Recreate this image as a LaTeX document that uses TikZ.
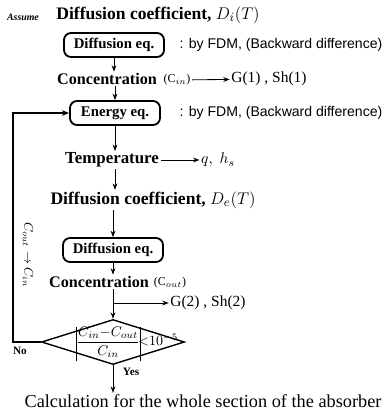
\documentclass[tikz,border=0pt]{standalone}
\usepackage{amsmath,amssymb}
\usepackage{fontspec}
\setmainfont{Liberation Serif}
\setsansfont{Liberation Sans}
\usepackage{tikz}
\usetikzlibrary{shapes.geometric, arrows.meta, positioning, calc}
\tikzstyle{eqbox} = [rectangle, draw, line width=1.3pt, rounded corners=5pt, minimum height=0.6cm, inner sep=2pt, font=\fontsize{10.5}{12}\selectfont\bfseries]
\tikzstyle{arrow} = [-{Stealth[length=1.6mm, width=1.2mm]}, line width=0.6pt]

\begin{document}
\begin{tikzpicture}[x=0.025cm, y=-0.025cm,
  lbl/.style={font=\fontsize{11.5}{13}\selectfont\bfseries, inner sep=1pt},
  title/.style={font=\fontsize{12.5}{14}\selectfont\bfseries, inner sep=1pt},
  note/.style={font=\sffamily\fontsize{10}{12}\selectfont, inner sep=1pt},
  res/.style={font=\fontsize{11}{13}\selectfont, inner sep=1pt},
  small/.style={font=\fontsize{8}{10}\selectfont\bfseries, inner sep=1pt},
  check/.style={diamond, draw, line width=1pt, aspect=3.2, inner sep=0pt, minimum width=3.575cm, minimum height=1.125cm},
  ar/.style={-{Stealth[length=1.6mm, width=1.2mm]}, line width=0.6pt}]

  \useasboundingbox (0,0) rectangle (391,415);

  \node[font=\fontsize{7}{8}\selectfont\bfseries\itshape, inner sep=1pt] (assume) at (23,17) {Assume};
  \node[title] (dcoefi) at (158,15) {Diffusion coefficient, $D_i(T)$};

  \node[eqbox, minimum width=2.5cm] (deqa) at (114,45) {Diffusion eq.};
  \node[note] (fdma) at (281,45) {: by FDM, (Backward difference)};

  \node[lbl] (conca) at (107,79) {Concentration};
  \node[res, font=\fontsize{8.5}{10}\selectfont] (cin) at (177,80) {(C$_{in}$)};
  \node[res] (ga) at (269,79) {G(1) , Sh(1)};

  \node[eqbox, minimum width=2.25cm] (energy) at (115,113) {Energy eq.};
  \node[note] (fdmb) at (281,113) {: by FDM, (Backward difference)};

  \node[lbl, font=\fontsize{12}{14}\selectfont\bfseries] (temp) at (112,160) {Temperature};
  \node[font=\sffamily\fontsize{11}{13}\selectfont\itshape, inner sep=1pt] (qhs) at (218,160) {$q,\ h_s$};

  \node[title] (dcoefe) at (153,200) {Diffusion coefficient, $D_e(T)$};

  \node[eqbox, minimum width=2.5cm] (deqb) at (113,250) {Diffusion eq.};

  \node[lbl] (concb) at (99,282) {Concentration};
  \node[res, font=\fontsize{8.5}{10}\selectfont] (cout) at (170,283) {(C$_{out}$)};
  \coordinate (split) at (113,303);
  \node[res] (gb) at (208,303) {G(2) , Sh(2)};

  \node[check] (check) at (113,342) {};
  \node[font=\fontsize{10}{12}\selectfont, inner sep=0pt] (ratio) at (127,344)
    {$\rule[-2.4ex]{0.5pt}{5.4ex}\dfrac{C_{in}{-}C_{out}}{C_{in}}\rule[-2.4ex]{0.5pt}{5.4ex}\!{<}10^{-5}$};
  \node[small] (no) at (20,351) {No};
  \node[small] (yes) at (131,372) {Yes};

  \node[font=\fontsize{13}{15}\selectfont, inner sep=1pt] (calc) at (203,401) {Calculation for the whole section of the absorber};

  \coordinate (loop) at (13,230);
  \node[font=\fontsize{9}{11}\selectfont, rotate=-90, inner sep=1pt] (swap) at (28,255) {$C_{out}\rightarrow C_{in}$};

  \draw[ar] (deqa) -- (deqa |- conca.north);
  \draw[ar] (cin) -- (ga);
  \draw[ar] (energy |- conca.south) -- (energy);
  \draw[ar] (energy) -- (energy |- temp.north);
  \draw[ar] (temp) -- (qhs);
  \draw[ar] (energy |- temp.south) -- (energy |- dcoefe.north);
  \draw[ar] (deqb |- dcoefe.south) -- (deqb);
  \draw[ar] (deqb) -- (deqb |- concb.north);
  \draw[ar] (deqb |- concb.south) -- (check.north);
  \draw[ar] (split) -- (gb);
  \draw[line width=1pt, -{Stealth[length=1.8mm, width=1.4mm]}] (check.west) -| (loop) |- (energy.west);
  \draw[ar] (check.south) -- (check.south |- calc.north);
\end{tikzpicture}
\end{document}
